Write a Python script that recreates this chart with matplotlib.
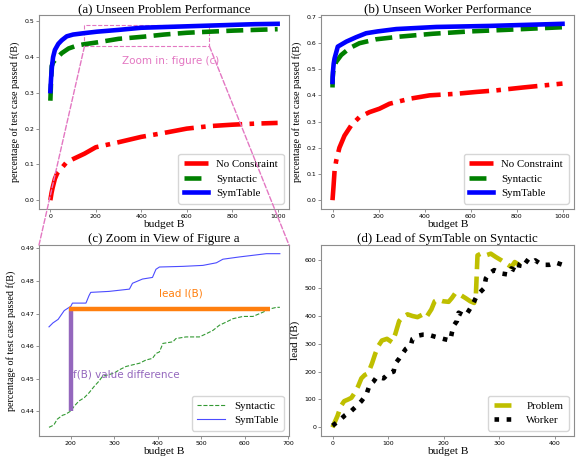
import matplotlib
matplotlib.use("Agg")
import matplotlib.pyplot as plt
from matplotlib.patches import Rectangle, ConnectionPatch

# ---------------- data ----------------
# (a) Unseen Problem Performance
a_sym_x = [0, 3, 7, 12, 20, 35, 50, 72, 100, 150, 205, 300, 400, 500, 600, 700, 800, 900, 1000]
a_sym_y = [0.305, 0.34, 0.373, 0.40, 0.42, 0.437, 0.447, 0.458, 0.463, 0.467, 0.471, 0.476,
           0.482, 0.484, 0.486, 0.488, 0.490, 0.492, 0.493]
a_syn_x = [0, 3, 6, 12, 25, 50, 80, 116, 150, 205, 300, 410, 500, 600, 700, 805, 900, 1000]
a_syn_y = [0.278, 0.33, 0.375, 0.385, 0.395, 0.411, 0.424, 0.432, 0.436, 0.441, 0.451, 0.457,
           0.463, 0.468, 0.471, 0.474, 0.476, 0.478]
a_noc_x = [0, 5, 10, 20, 30, 50, 70, 100, 150, 200, 300, 400, 500, 600, 700, 800, 900, 1000]
a_noc_y = [0.0, 0.02, 0.035, 0.06, 0.075, 0.09, 0.105, 0.115, 0.13, 0.148, 0.162, 0.177,
           0.188, 0.2, 0.207, 0.211, 0.214, 0.216]

# (b) Unseen Worker Performance
b_sym_x = [0, 2, 5, 9, 23, 60, 103, 146, 196, 277, 451, 683, 1000]
b_sym_y = [0.451, 0.49, 0.52, 0.541, 0.586, 0.605, 0.622, 0.637, 0.644, 0.653, 0.661, 0.665, 0.673]
b_syn_x = [0, 1, 3, 8, 16, 38, 74, 117, 190, 291, 435, 596, 755, 1000]
b_syn_y = [0.43, 0.47, 0.49, 0.51, 0.528, 0.554, 0.58, 0.599, 0.614, 0.624, 0.635, 0.644, 0.65, 0.66]
b_noc_x = [0, 4, 9, 16, 30, 52, 81, 117, 161, 204, 248, 335, 422, 538, 625, 712, 828, 1000]
b_noc_y = [0.0, 0.047, 0.112, 0.15, 0.2, 0.246, 0.285, 0.317, 0.336, 0.349, 0.368, 0.387,
           0.40, 0.406, 0.413, 0.419, 0.43, 0.445]

# (c) Zoom in view of figure a
c_sym_x = [150, 159, 171, 185, 200, 204, 235, 242, 246, 288, 335, 342, 365, 388, 396, 404,
           458, 504, 535, 550, 588, 619, 650, 681]
c_sym_y = [0.4659, 0.4671, 0.4682, 0.4709, 0.4722, 0.4732, 0.4732, 0.4755, 0.4765, 0.4768,
           0.4775, 0.4793, 0.4806, 0.4811, 0.4836, 0.4843, 0.4845, 0.4848, 0.4856, 0.4867,
           0.4874, 0.4879, 0.4884, 0.4884]
c_syn_x = [150, 161, 169, 181, 188, 200, 208, 219, 231, 242, 254, 265, 273, 288, 300, 312,
           327, 342, 358, 373, 388, 396, 404, 412, 435, 442, 465, 496, 512, 527, 542, 558,
           573, 596, 619, 642, 658, 673, 681]
c_syn_y = [0.4350, 0.4357, 0.4375, 0.4387, 0.4390, 0.4400, 0.4415, 0.4431, 0.4441, 0.4456,
           0.4476, 0.4492, 0.4507, 0.4512, 0.4517, 0.4527, 0.4537, 0.4542, 0.4547, 0.4557,
           0.4562, 0.4577, 0.4582, 0.4608, 0.4613, 0.4623, 0.4628, 0.4628, 0.4638, 0.4648,
           0.4664, 0.4674, 0.4684, 0.4691, 0.4691, 0.4704, 0.4714, 0.4719, 0.4719]
lead_x = [196, 658]
lead_y = [0.4714, 0.4714]
diff_x = [200, 200]
diff_y = [0.4400, 0.4714]

# (d) Lead of SymTable on Syntactic
d_prob_x = [0, 9, 15, 21, 28, 34, 40, 46, 52, 58, 64, 71, 77, 83, 89, 98, 107, 113, 120, 126,
            135, 144, 153, 163, 169, 178, 184, 190, 199, 209, 215, 221, 230, 239, 248, 255,
            258, 261, 267, 276, 285, 294, 304, 313, 322, 328, 337]
d_prob_y = [0, 41, 76, 94, 100, 106, 124, 147, 176, 188, 194, 229, 265, 294, 312, 318, 306,
            335, 382, 396, 406, 400, 396, 406, 396, 424, 453, 459, 453, 451, 465, 482, 476,
            465, 453, 447, 471, 618, 624, 618, 624, 612, 600, 588, 576, 594, 582]
d_work_x = [0, 12, 23, 34, 43, 52, 61, 67, 74, 80, 92, 101, 110, 113, 120, 126, 132, 141, 144,
            153, 163, 172, 184, 199, 212, 215, 218, 224, 227, 239, 245, 252, 258, 264, 273,
            276, 282, 291, 304, 316, 322, 334, 337, 344, 356, 365, 377, 390, 402, 414]
d_work_y = [6, 24, 44, 59, 76, 94, 118, 153, 165, 182, 176, 194, 200, 229, 247, 265, 282, 294,
            318, 329, 333, 333, 326, 318, 312, 341, 365, 382, 412, 400, 418, 441, 465, 482,
            500, 535, 553, 565, 553, 549, 571, 559, 588, 606, 588, 600, 584, 584, 592, 584]

# ---------------- style ----------------
SERIF = "Liberation Serif"
TITLE_FS = 9.3
XLABEL_FS = 8.2
YLABEL_FS = 7.3
LEG_FS = 7.8
TICK_FS = 4.5
PINK = "#e377c2"

fig = plt.figure(figsize=(5.79, 4.59), dpi=100)

L1, W = 39 / 579, 250 / 579
L2 = 321 / 579
B1, H1 = 1 - 209 / 459, 194 / 459
B2, H2 = 1 - 436 / 459, 191 / 459
ax_a = fig.add_axes([L1, B1, W, H1])
ax_b = fig.add_axes([L2, B1, 253 / 579, H1])
ax_c = fig.add_axes([L1, B2, W, H2])
ax_d = fig.add_axes([L2, B2, 253 / 579, H2])


def style(ax, title, ylabel, yfs=YLABEL_FS):
    ax.set_title(title, fontsize=TITLE_FS, family=SERIF, pad=2)
    ax.set_xlabel("budget B", fontsize=XLABEL_FS, family=SERIF, labelpad=1)
    ax.set_ylabel(ylabel, fontsize=yfs, family=SERIF, labelpad=3)
    ax.tick_params(labelsize=TICK_FS, length=2, width=0.5, pad=1.5, color="0.4")
    for s in ax.spines.values():
        s.set_color("0.55")
        s.set_linewidth(0.8)


def legend(ax, hl=2.2):
    ax.legend(loc="lower right", prop={"family": SERIF, "size": LEG_FS}, handlelength=hl,
              borderpad=0.5, labelspacing=0.45)


ylab = "percentage of test case passed f(B)"
LW = 3.3

# (a)
ax_a.plot(a_noc_x, a_noc_y, color="red", ls="-.", lw=LW, label="No Constraint")
ax_a.plot(a_syn_x, a_syn_y, color="green", ls="--", lw=LW, label="Syntactic")
ax_a.plot(a_sym_x, a_sym_y, color="blue", ls="-", lw=LW, label="SymTable")
ax_a.set_xticks([0, 200, 400, 600, 800, 1000])
ax_a.set_yticks([0.0, 0.1, 0.2, 0.3, 0.4, 0.5])
ax_a.add_patch(Rectangle((150, 0.43), 550, 0.06, fill=False, ec=PINK, ls="--", lw=0.8))
ax_a.text(527, 0.389, "Zoom in: figure (c)", color=PINK, fontsize=7.5, ha="center", va="center")
style(ax_a, "(a) Unseen Problem Performance", ylab)
legend(ax_a)

# (b)
ax_b.plot(b_noc_x, b_noc_y, color="red", ls="-.", lw=LW, label="No Constraint")
ax_b.plot(b_syn_x, b_syn_y, color="green", ls="--", lw=LW, label="Syntactic")
ax_b.plot(b_sym_x, b_sym_y, color="blue", ls="-", lw=LW, label="SymTable")
ax_b.set_xticks([0, 200, 400, 600, 800, 1000])
ax_b.set_yticks([0.0, 0.1, 0.2, 0.3, 0.4, 0.5, 0.6, 0.7])
style(ax_b, "(b) Unseen Worker Performance", ylab)
legend(ax_b)

# (c)
ax_c.plot(c_syn_x, c_syn_y, color="green", ls="--", lw=0.8, alpha=0.8, label="Syntactic")
ax_c.plot(c_sym_x, c_sym_y, color="blue", ls="-", lw=0.8, alpha=0.7, label="SymTable")
ax_c.plot(diff_x, diff_y, color="#9467bd", lw=3.2, solid_capstyle="butt")
ax_c.plot(lead_x, lead_y, color="#ff7f0e", lw=3.2, solid_capstyle="butt")
ax_c.text(453, 0.4762, "lead l(B)", color="#ff7f0e", fontsize=7.5, ha="center", va="center")
ax_c.text(205, 0.4512, "f(B) value difference", color="#9467bd", fontsize=7.5,
          ha="left", va="center")
ax_c.set_xticks([200, 300, 400, 500, 600, 700])
ax_c.set_yticks([0.44, 0.45, 0.46, 0.47, 0.48, 0.49])
ax_c.set_xlim(127, 702)
style(ax_c, "(c) Zoom in View of Figure a", ylab)
legend(ax_c, hl=2.6)

# (d)
ax_d.plot(d_prob_x, d_prob_y, color="y", ls="--", lw=LW, label="Problem")
ax_d.plot(d_work_x, d_work_y, color="black", ls=":", lw=LW, label="Worker")
ax_d.set_xticks([0, 100, 200, 300, 400])
ax_d.set_yticks([0, 100, 200, 300, 400, 500, 600])
style(ax_d, "(d) Lead of SymTable on Syntactic", "lead l(B)", yfs=8)
legend(ax_d)

# connection lines from rectangle in (a) to panel (c)
for xa, xc in [(150, 0), (700, 1)]:
    con = ConnectionPatch(xyA=(xa, 0.43), coordsA=ax_a.transData,
                          xyB=(xc, 1), coordsB=ax_c.transAxes,
                          color=PINK, ls="--", lw=1.0)
    fig.add_artist(con)

fig.savefig("out.png", dpi=100)
